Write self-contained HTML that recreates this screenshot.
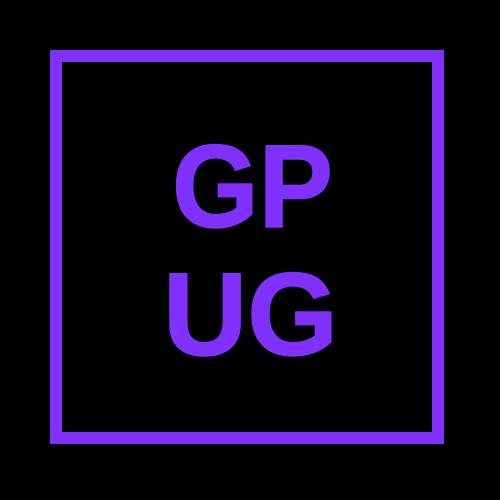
<!DOCTYPE html>
<html>
<head>
<meta charset="utf-8">
<style>
html,body{margin:0;padding:0;background:#000;}
svg{display:block;}
</style>
</head>
<body>
<svg width="500" height="500" viewBox="0 0 500 500">
  <rect x="0" y="0" width="500" height="500" fill="#000"/>
  <rect x="56" y="56" width="382" height="382" fill="none" stroke="#8030ff" stroke-width="12"/>
  <text x="172" y="227" font-family="'Liberation Sans', sans-serif" font-weight="bold" font-size="118" fill="#8030ff" stroke="#8030ff" stroke-width="1.5" textLength="161" lengthAdjust="spacingAndGlyphs">GP</text>
  <text x="163" y="355" font-family="'Liberation Sans', sans-serif" font-weight="bold" font-size="118" fill="#8030ff" stroke="#8030ff" stroke-width="1.5" textLength="175" lengthAdjust="spacingAndGlyphs">UG</text>
</svg>
</body>
</html>
